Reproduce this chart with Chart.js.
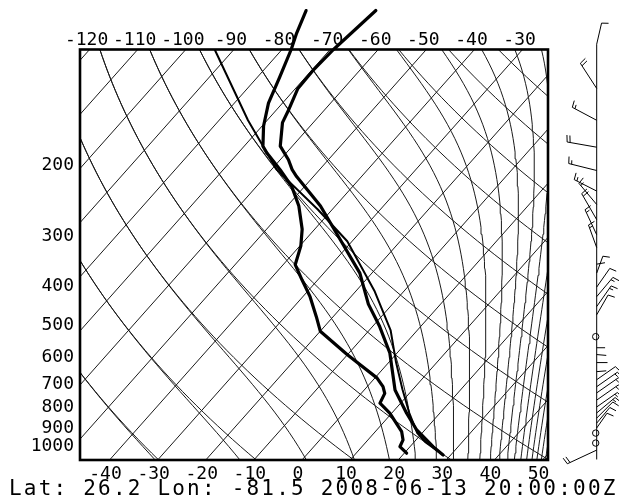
<!DOCTYPE html>
<html>
<head>
<meta charset="utf-8">
<script src="https://cdn.jsdelivr.net/npm/chart.js@4.4.0/dist/chart.umd.min.js"></script>
<style>
  html, body { margin: 0; padding: 0; background: #fff; }
  #wrap { width: 619px; height: 501px; }
</style>
</head>
<body>
<div id="wrap"><canvas id="skewt"></canvas></div>
<script>
// Sounding (hPa / deg C)
const tempPres = [80, 100, 112, 125, 141, 152, 174, 188, 199, 207, 245, 297, 360, 430, 489, 569, 703, 803, 884, 973, 1020];
const tempVals = [-67.7, -69.3, -69.7, -69.5, -67.5, -66.4, -62.5, -58.3, -55.7, -53.5, -43.1, -32.8, -22.5, -15.0, -8.5, -1.5, 6.4, 13.1, 18.3, 24.8, 28.4];

const dewPres = [80, 91, 100, 117, 136, 155, 174, 181, 199, 219, 245, 280, 308, 343, 374, 412, 462, 502, 574, 656, 690, 717, 758, 803, 893, 936, 973, 1010];
const dewVals = [-82.2, -80.0, -78.1, -75.4, -72.9, -69.7, -66.1, -64.0, -58.2, -52.7, -47.6, -42.6, -39.8, -37.5, -33.3, -28.5, -23.5, -20.0, -10.1, 0.4, 3.3, 4.9, 5.7, 9.6, 15.5, 17.3, 17.9, 20.5];

// lifted parcel
const parcelPres = [100, 150, 199, 250, 300, 400, 500, 600, 700, 800, 900, 950, 1020];
const parcelVals = [-94.0, -74.0, -58.9, -43.0, -31.0, -16.0, -5.5, 1.5, 7.8, 13.5, 19.0, 22.5, 28.4];

// winds on the right-hand staff
const windPres = [97, 125, 150, 175, 200, 225, 243, 265, 289, 311, 342, 360, 390, 412, 436, 457, 518, 552, 574, 601, 633, 663, 690, 715, 745, 775, 802, 826, 850, 874, 900, 953, 992];
const windDir  = [13, 327, 298, 280, 284, 297, 320, 330, 335, 340, 80, 20, 35, 40, 35, 30, 0, 90, 95, 90, 85, 55, 55, 55, 55, 55, 50, 45, 40, 35, 0, 0, 245];
const windSpd  = [13, 20, 18, 20, 19, 16, 18, 20, 18, 15, 2, 10, 14, 16, 16, 14, 0, 2, 3, 4, 3, 14, 16, 17, 17, 16, 15, 14, 12, 10, 0, 0, 22];

// diagram background
const isotherms = [-120, -110, -100, -90, -80, -70, -60, -50, -40, -30, -20, -10, 0, 10, 20, 30, 40, 50];
const dryThetas = [240, 260, 280, 300, 320, 340, 360, 380, 400, 420, 440, 460, 480];
const moistThetaE = [240, 260, 280, 300, 320, 340, 360, 380, 400, 420, 440, 460, 480, 500, 520, 540, 560, 580, 600, 620];
const presTicks = [200, 300, 400, 500, 600, 700, 800, 900, 1000];
const bottomTicks = [-40, -30, -20, -10, 0, 10, 20, 30, 40, 50];
const topTicks = [-120, -110, -100, -90, -80, -70, -60, -50, -40, -30];

const P_BOT = 1050, P_TOP = 100;
const SKEW = 32.26;                 // deg C shifted per ln(p) unit
const X_MIN = -46.14, X_MAX = 51.14;
const TOP_SHIFT = SKEW * Math.log(P_BOT / P_TOP);

function skewX(t, p) { return t + SKEW * Math.log(P_BOT / p); }

const gridLevels = [];
for (let i = 0; i <= 60; i++) gridLevels.push(P_BOT * Math.pow(P_TOP / P_BOT, i / 60));

function thetaES(tc, p) {
  const tk = tc + 273.15;
  const es = 6.112 * Math.exp(17.67 * tc / (tc + 243.5));
  const rs = 0.622 * es / (p - es);
  return tk * Math.pow(1000 / p, 0.286) * Math.exp(2.5e6 * rs / (1004 * tk));
}
function moistTemp(the, p) {
  let lo = -170, hi = 60;
  while (6.112 * Math.exp(17.67 * hi / (hi + 243.5)) > p * 0.5) hi -= 1;
  for (let k = 0; k < 50; k++) {
    const mid = (lo + hi) / 2;
    if (thetaES(mid, p) > the) hi = mid; else lo = mid;
  }
  return (lo + hi) / 2;
}

function profile(ps, ts) {
  return ps.map((p, i) => ({ x: skewX(ts[i], p), y: p }));
}

const thin = { borderColor: '#1a1a1a', borderWidth: 1, pointRadius: 0, showLine: true, tension: 0, order: 5 };
const datasets = [];

datasets.push({ label: 'T', data: profile(tempPres, tempVals), borderColor: '#000', borderWidth: 3.2,
  pointRadius: 0, showLine: true, order: 1, clip: { left: 0, right: 0, bottom: 0, top: false } });
datasets.push({ label: 'Td', data: profile(dewPres, dewVals), borderColor: '#000', borderWidth: 3.2,
  pointRadius: 0, showLine: true, order: 1, clip: { left: 0, right: 0, bottom: 0, top: false } });
datasets.push({ label: 'parcel', data: profile(parcelPres, parcelVals), borderColor: '#000', borderWidth: 2,
  pointRadius: 0, showLine: true, order: 2 });

isotherms.forEach(t => {
  datasets.push(Object.assign({ data: [{ x: skewX(t, P_BOT), y: P_BOT }, { x: skewX(t, P_TOP), y: P_TOP }] }, thin));
});
dryThetas.forEach(th => {
  const pts = gridLevels.map(p => ({ x: skewX(th * Math.pow(p / 1000, 0.286) - 273.15, p), y: p }));
  datasets.push(Object.assign({ data: pts }, thin));
});
moistThetaE.forEach(th => {
  const pts = gridLevels.map(p => ({ x: skewX(moistTemp(th, p), p), y: p }));
  datasets.push(Object.assign({ data: pts }, thin));
});

const frame = {
  id: 'frame',
  afterDatasetsDraw(chart) {
    const a = chart.chartArea, ctx = chart.ctx;
    ctx.save();
    ctx.strokeStyle = '#000';
    ctx.lineWidth = 2.6;
    ctx.strokeRect(a.left, a.top, a.right - a.left, a.bottom - a.top);
    ctx.restore();
  }
};

const footer = {
  id: 'footer',
  afterDraw(chart) {
    const ctx = chart.ctx;
    ctx.save();
    ctx.font = '21px "DejaVu Sans Mono"';
    ctx.letterSpacing = '2.2px';
    ctx.fillStyle = '#000';
    ctx.textBaseline = 'alphabetic';
    ctx.fillText('Lat: 26.2 Lon: -81.5 2008-06-13 20:00:00Z', 9, 495);
    ctx.restore();
  }
};

// wind barbs on the staff to the right of the diagram
const barbs = {
  id: 'barbs',
  afterDraw(chart) {
    const ctx = chart.ctx, ys = chart.scales.y;
    const sx = 596.7;
    ctx.save();
    ctx.strokeStyle = '#000';
    ctx.lineWidth = 1;
    ctx.beginPath();
    ctx.moveTo(sx, ys.getPixelForValue(windPres[0]));
    ctx.lineTo(sx, ys.getPixelForValue(1000) + 8);
    ctx.stroke();
    windPres.forEach((p, i) => {
      const y = ys.getPixelForValue(p);
      const spd = windSpd[i];
      if (spd === 0) {
        ctx.beginPath(); ctx.arc(sx - 1, y, 3.2, 0, Math.PI * 2); ctx.stroke();
        return;
      }
      const a = windDir[i] * Math.PI / 180;
      const len = 6 + 1.2 * spd;
      const ux = Math.sin(a), uy = -Math.cos(a);
      const tx = sx + ux * len, ty = y + uy * len;
      ctx.beginPath(); ctx.moveTo(sx, y); ctx.lineTo(tx, ty); ctx.stroke();
      // feathers, clockwise side
      const fa = a + Math.PI / 2.3;
      const fx = Math.sin(fa), fy = -Math.cos(fa);
      let left = spd, k = 0;
      while (left >= 5) {
        const fl = left >= 10 ? 7 : 4;
        const bx = tx - ux * k * 3, by = ty - uy * k * 3;
        ctx.beginPath(); ctx.moveTo(bx, by); ctx.lineTo(bx + fx * fl, by + fy * fl); ctx.stroke();
        left -= left >= 10 ? 10 : 5; k++;
      }
    });
    ctx.restore();
  }
};

const tickFont = { family: 'DejaVu Sans Mono', size: 18 };

new Chart(document.getElementById('skewt'), {
  type: 'scatter',
  data: { datasets },
  options: {
    responsive: true,
    maintainAspectRatio: false,
    animation: false,
    devicePixelRatio: 1,
    layout: { padding: { left: 0, right: 71, top: 0, bottom: 0 } },
    plugins: { legend: { display: false }, tooltip: { enabled: false } },
    elements: { line: { borderCapStyle: 'round', borderJoinStyle: 'round' } },
    scales: {
      x: {
        type: 'linear', position: 'bottom', min: X_MIN, max: X_MAX,
        grid: { display: false, drawTicks: false }, border: { display: false },
        afterBuildTicks: s => { s.ticks = bottomTicks.map(v => ({ value: v })); },
        afterFit: s => { s.height = 41; },
        ticks: { font: tickFont, color: '#000', padding: 4, labelOffset: -4, maxRotation: 0, autoSkip: false,
          callback: v => String(v) }
      },
      x2: {
        type: 'linear', position: 'top', min: X_MIN - TOP_SHIFT, max: X_MAX - TOP_SHIFT,
        grid: { display: false, drawTicks: false }, border: { display: false },
        afterBuildTicks: s => { s.ticks = topTicks.map(v => ({ value: v })); },
        afterFit: s => { s.height = 49.5; },
        ticks: { font: tickFont, color: '#000', padding: -2, labelOffset: -3, maxRotation: 0, autoSkip: false,
          callback: v => String(v) }
      },
      y: {
        type: 'logarithmic', position: 'left', reverse: true, min: P_TOP, max: P_BOT,
        grid: { display: false, drawTicks: false }, border: { display: false },
        afterBuildTicks: s => { s.ticks = presTicks.map(v => ({ value: v })); },
        afterFit: s => { s.width = 80; },
        ticks: { font: tickFont, color: '#000', padding: 6, labelOffset: -5, autoSkip: false,
          callback: v => String(v) }
      }
    }
  },
  plugins: [frame, footer, barbs]
});
</script>
</body>
</html>
